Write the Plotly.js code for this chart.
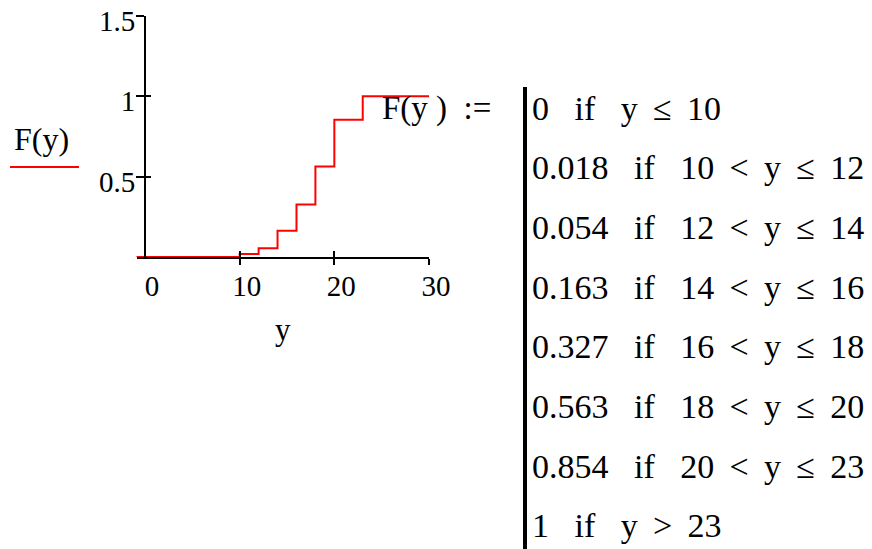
<!DOCTYPE html>
<html>
<head>
<meta charset="utf-8">
<script src="https://cdn.plot.ly/plotly-3.0.1.min.js"></script>
<style>
  html, body { margin: 0; padding: 0; background: #fff; }
  #chart { width: 872px; height: 549px; }
</style>
</head>
<body>
<div id="chart"></div>
<script>
// Piecewise distribution function F(y): breakpoints and step values
const yStart = -1;
const yEnd = 30;
const yBreaks = [10, 12, 14, 16, 18, 20, 23];
const fValues = [0, 0.018, 0.054, 0.163, 0.327, 0.563, 0.854, 1];

// Axis ticks
const xTicks = [0, 10, 20, 30];
const yTicks = [0.5, 1, 1.5];

const W = 872, H = 549;
const px = x => x / W;
const py = y => 1 - y / H;

const FONT = 'Liberation Serif, Times New Roman, serif';
const NB = '\u00a0';
const TH = '\u2009';

// Step points: value fValues[i] holds on (x_i, x_{i+1}]
const stepX = [yStart].concat(yBreaks, [yEnd]);
const stepY = fValues.concat([fValues[fValues.length - 1]]);

const emptyTrace = (xa, ya) => ({
  x: [], y: [], xaxis: xa, yaxis: ya,
  type: 'scatter', mode: 'lines', showlegend: false, hoverinfo: 'skip'
});

const traces = [
  {
    x: stepX, y: stepY,
    type: 'scatter', mode: 'lines',
    line: { shape: 'hv', color: '#ff0000', width: 2 },
    hoverinfo: 'skip', showlegend: false
  },
  // companion axes carrying the two halves of the crossing ticks
  emptyTrace('x2', 'y2'),
  emptyTrace('x3', 'y3')
];

const xDomain = [px(136.5), px(429)];
const yDomain = [py(257), py(16)];
const xRange = [-0.9, 30];
const yRange = [0, 1.5];
const yAxisPos = px(145);

const axisBase = {
  showgrid: false, zeroline: false, showline: true,
  linecolor: '#000', linewidth: 2,
  tickcolor: '#000', tickwidth: 2,
  fixedrange: true
};

const tickX = (dir, len, n) => Object.assign({}, axisBase, {
  domain: xDomain, range: xRange, anchor: 'y' + n, overlaying: 'x',
  tickmode: 'array', tickvals: xTicks.slice(1), showticklabels: false,
  ticks: dir, ticklen: len
});
const tickY = (dir, len) => Object.assign({}, axisBase, {
  domain: yDomain, range: yRange, anchor: 'free', position: yAxisPos, overlaying: 'y',
  tickmode: 'array', tickvals: yTicks, showticklabels: false,
  ticks: dir, ticklen: len
});

// Piecewise definition text rows, built from the same arrays
const gap = NB + NB + NB;
const op = s => TH + NB + s + NB + TH;
const rowsText = [];
rowsText.push(`${fValues[0]}${gap}if${gap}y${op('≤')}${yBreaks[0]}`);
for (let i = 1; i < fValues.length - 1; i++) {
  rowsText.push(`${fValues[i]}${gap}if${gap}${yBreaks[i - 1]}${op('<')}y${op('≤')}${yBreaks[i]}`);
}
rowsText.push(`${fValues[fValues.length - 1]}${gap}if${gap}y${op('>')}${yBreaks[yBreaks.length - 1]}`);

const TXT = 34;
const rowTop = 108, rowStep = 59.7;
const annotations = rowsText.map((t, i) => ({
  text: t, xref: 'paper', yref: 'paper',
  x: px(530), y: py(rowTop + i * rowStep),
  xanchor: 'left', yanchor: 'middle', showarrow: false,
  font: { family: FONT, size: TXT, color: '#000' }
}));

annotations.push({
  text: `F(y${NB})${NB}${NB}:=`, xref: 'paper', yref: 'paper',
  x: px(380), y: py(rowTop),
  xanchor: 'left', yanchor: 'middle', showarrow: false,
  font: { family: FONT, size: 33, color: '#000' }
});

// trace label with its line sample
annotations.push({
  text: 'F(y)', xref: 'paper', yref: 'paper',
  x: px(41), y: py(139),
  xanchor: 'center', yanchor: 'middle', showarrow: false,
  font: { family: FONT, size: 32, color: '#000' }
});

const shapes = [
  { type: 'line', xref: 'paper', yref: 'paper',
    x0: px(10), x1: px(79), y0: py(167), y1: py(167),
    line: { color: '#ff0000', width: 2 } },
  // bracket bar of the piecewise definition
  { type: 'line', xref: 'paper', yref: 'paper',
    x0: px(525), x1: px(525), y0: py(87), y1: py(549),
    line: { color: '#000', width: 4 } }
];

const layout = {
  width: W, height: H,
  margin: { l: 0, r: 0, t: 0, b: 0 },
  paper_bgcolor: '#fff', plot_bgcolor: 'rgba(0,0,0,0)',
  showlegend: false,
  font: { family: FONT, color: '#000' },
  xaxis: Object.assign({}, axisBase, {
    domain: xDomain, range: xRange, anchor: 'y',
    tickmode: 'array', tickvals: xTicks, ticktext: xTicks.map(String),
    ticks: '',
    tickfont: { family: FONT, size: 29, color: '#000' },
    ticklabelshift: 7, ticklabelstandoff: 2,
    title: { text: 'y', font: { family: FONT, size: 31, color: '#000' }, standoff: 18 }
  }),
  yaxis: Object.assign({}, axisBase, {
    domain: yDomain, range: yRange, anchor: 'free', position: yAxisPos,
    tickmode: 'array', tickvals: yTicks, ticktext: yTicks.map(String),
    ticks: '',
    tickfont: { family: FONT, size: 29, color: '#000' },
    ticklabelshift: 5, ticklabelstandoff: 3
  }),
  xaxis2: tickX('outside', 6, 2),
  yaxis2: tickY('outside', 8),
  xaxis3: tickX('inside', 6, 3),
  yaxis3: tickY('inside', 5),
  annotations: annotations,
  shapes: shapes
};

Plotly.newPlot('chart', traces, layout, { displayModeBar: false, staticPlot: true });
</script>
</body>
</html>
